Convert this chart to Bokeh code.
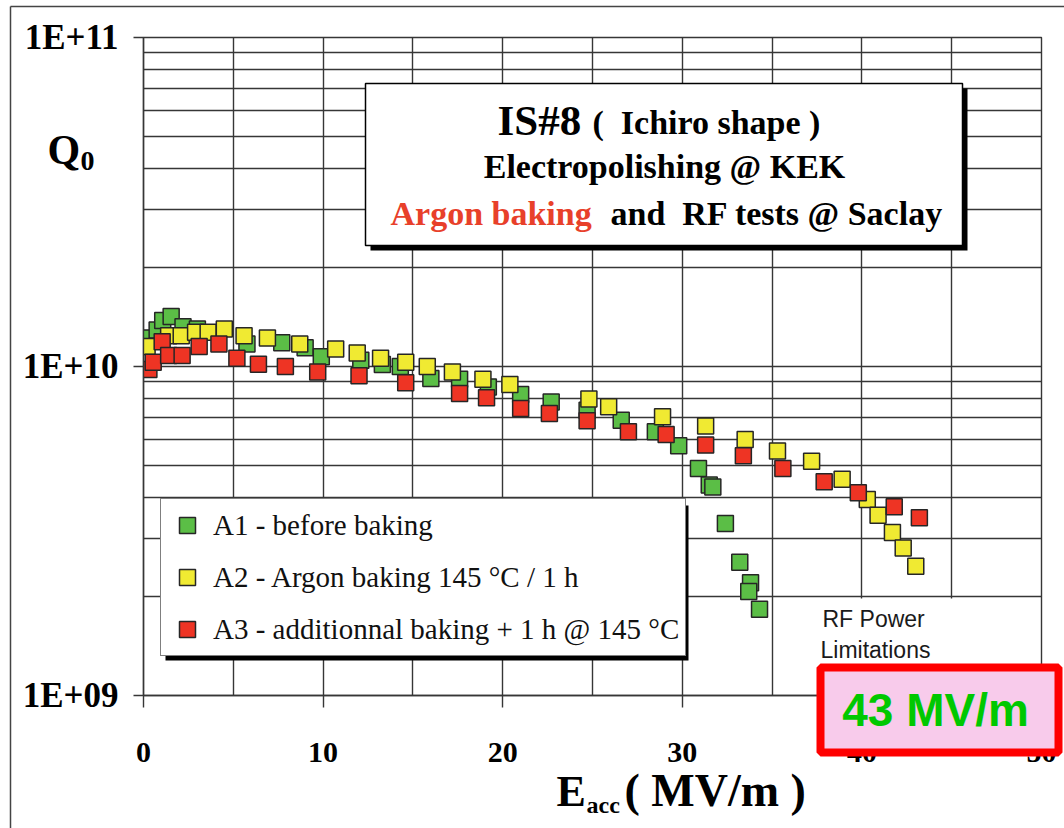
from bokeh.plotting import figure
from bokeh.models import (Range1d, FixedTicker, Label, Legend, LegendItem,
                          CustomJSTickFormatter, Column)
from bokeh.embed import file_html
from bokeh.resources import INLINE

# ---------------- data ----------------
a1_e = [0.2, 0.76, 1.07, 1.54, 2.2, 3.0, 5.76, 7.7, 9.0, 9.9, 12.1, 13.3, 14.3,
        16.0, 17.6, 19.2, 21.0, 22.7, 24.7, 26.6, 28.5, 29.8, 30.9, 31.5, 31.7,
        32.4, 33.2, 33.8, 33.7, 34.3]
a1_q = [1.22e10, 1.29e10, 1.38e10, 1.42e10, 1.32e10, 1.30e10, 1.17e10, 1.18e10,
        1.14e10, 1.07e10, 1.045e10, 1.014e10, 1.0e10, 0.92e10, 0.915e10, 0.867e10,
        0.822e10, 0.78e10, 0.736e10, 0.687e10, 0.633e10, 0.574e10, 0.49e10,
        0.436e10, 0.43e10, 0.333e10, 0.254e10, 0.22e10, 0.207e10, 0.183e10]

a2_e = [0.2, 1.4, 2.1, 2.9, 3.6, 4.5, 5.6, 6.9, 8.7, 10.7, 11.9, 13.2, 14.6, 15.8,
        17.2, 18.9, 20.4, 24.8, 25.9, 28.9, 31.3, 33.5, 35.3, 37.2, 38.9, 40.3,
        40.9, 41.7, 42.3, 43.0]
a2_q = [1.15e10, 1.24e10, 1.24e10, 1.27e10, 1.27e10, 1.30e10, 1.24e10, 1.22e10,
        1.17e10, 1.13e10, 1.10e10, 1.06e10, 1.03e10, 1.0e10, 0.963e10, 0.915e10,
        0.882e10, 0.796e10, 0.755e10, 0.703e10, 0.659e10, 0.60e10, 0.554e10,
        0.515e10, 0.454e10, 0.394e10, 0.353e10, 0.313e10, 0.281e10, 0.247e10]

a3_e = [0.3, 0.54, 1.04, 1.4, 2.15, 3.1, 4.2, 5.2, 6.4, 7.9, 9.7, 12.0, 14.6, 17.6,
        19.1, 21.0, 22.6, 24.7, 27.0, 29.1, 31.3, 33.4, 35.6, 37.9, 39.8, 41.8, 43.2]
a3_q = [0.98e10, 1.03e10, 1.19e10, 1.08e10, 1.08e10, 1.15e10, 1.17e10, 1.06e10,
        1.016e10, 1.0e10, 0.963e10, 0.937e10, 0.892e10, 0.828e10, 0.803e10,
        0.745e10, 0.72e10, 0.684e10, 0.633e10, 0.621e10, 0.577e10, 0.535e10,
        0.49e10, 0.446e10, 0.413e10, 0.375e10, 0.347e10]

series_labels = ["A1 - before baking",
                 "A2 - Argon baking 145 \u00b0C / 1 h",
                 "A3 - additionnal baking + 1 h @ 145 \u00b0C"]
x_ticks = [0, 10, 20, 30, 40, 50]
y_ticks = [1e9, 1e10, 1e11]

# ---------------- layout helpers ----------------
W, H = 1064, 828
FL, FR, FT, FB = 143, 1041, 37, 695
X0, X1 = 0, 50
NB = "\u00a0"


def dx(px):
    return X0 + (px - FL) / (FR - FL) * (X1 - X0)


def dy(py):
    return 10 ** (9 + 2 * (FB - py) / (FB - FT))


def sx(px):
    return px - FL


def sy(py):
    return FB - py


SERIF = "Liberation Serif"
SANS = "Liberation Sans"
GRID = "#363636"

p = figure(width=W, height=H, output_backend="svg", toolbar_location=None,
           y_axis_type="log", x_range=Range1d(X0, X1), y_range=Range1d(1e9, 1e11),
           min_border_left=FL, min_border_right=W - FR, min_border_top=FT,
           min_border_bottom=H - FB)
p.outline_line_color = GRID
p.outline_line_width = 1.4
p.background_fill_color = "white"
p.border_fill_color = "white"

# grid
p.xgrid.ticker = FixedTicker(ticks=list(range(0, 51, 5)))
p.ygrid.ticker = FixedTicker(ticks=[k * 10 ** n for n in (9, 10) for k in range(1, 10)] + [1e11])
for g in (p.xgrid, p.ygrid):
    g.grid_line_color = GRID
    g.grid_line_width = 1.4
    g.grid_line_alpha = 1.0

# axes
p.xaxis.ticker = FixedTicker(ticks=x_ticks)
p.yaxis.ticker = FixedTicker(ticks=y_ticks)
p.yaxis.formatter = CustomJSTickFormatter(
    code="const e = Math.round(Math.log10(tick)); return '1E+' + (e < 10 ? '0' + e : '' + e);")
for ax in (p.xaxis, p.yaxis):
    ax.axis_line_color = GRID
    ax.axis_line_width = 1.4
    ax.major_tick_line_color = GRID
    ax.major_tick_line_width = 1.4
    ax.major_tick_in = 0
    ax.minor_tick_line_color = None
    ax.major_label_text_font = SERIF
    ax.major_label_text_font_style = "bold"
    ax.major_label_text_color = "black"
p.xaxis.major_tick_out = 12
p.xaxis.major_label_standoff = 35
p.xaxis.major_label_text_font_size = "30px"
p.yaxis.major_tick_out = 10
p.yaxis.major_label_standoff = 15
p.yaxis.major_label_text_font_size = "35px"

# ---------------- boxes inside the plot (drawn over grid) ----------------
p.quad(left=[dx(370)], right=[dx(967)], top=[dy(88)], bottom=[dy(250)],
       fill_color="black", line_color=None)
p.quad(left=[dx(365)], right=[dx(962)], top=[dy(83)], bottom=[dy(245)],
       fill_color="white", line_color="black", line_width=1.5)
p.quad(left=[dx(165)], right=[dx(688)], top=[dy(505)], bottom=[dy(660)],
       fill_color="black", line_color=None)

# ---------------- data ----------------
common = dict(marker="square", size=16, line_color="#262626", line_width=1.5)
r1 = p.scatter(a1_e, a1_q, fill_color="#5BBE46", **common)
r2 = p.scatter(a2_e, a2_q, fill_color="#F0EA32", **common)
r3 = p.scatter(a3_e, a3_q, fill_color="#EE3424", **common)

legend = Legend(items=[LegendItem(label=series_labels[0], renderers=[r1]),
                       LegendItem(label=series_labels[1], renderers=[r2]),
                       LegendItem(label=series_labels[2], renderers=[r3])],
                location=(sx(160), FB - 656))
legend.border_line_color = "black"
legend.border_line_width = 1.5
legend.background_fill_color = "white"
legend.background_fill_alpha = 1.0
legend.label_text_font = SERIF
legend.label_text_font_size = "29px"
legend.label_text_color = "#111111"
legend.glyph_width = 40
legend.glyph_height = 40
legend.label_standoff = 6
legend.padding = 6
legend.spacing = 12
legend.margin = 0
p.add_layout(legend, "center")


def lab(fig, text, px, base, size, color="black", font=SERIF, style="bold",
        align="left", units="screen"):
    """Place a text whose baseline is at page row `base` (text drawn centred)."""
    py = base - 0.34 * size
    if units == "screen":
        x, y = sx(px), sy(py)
    else:
        x, y = px, py
    fig.add_layout(Label(x=x, y=y, x_units=units, y_units=units,
                         text=text, text_font=font, text_font_size=f"{size}px",
                         text_font_style=style, text_color=color,
                         text_align=align, text_baseline="middle"))


# title box lines
lab(p, "IS#8", 497, 135, 43)
lab(p, "(" + NB + NB + "Ichiro shape )", 592, 134, 34)
lab(p, "Electropolishing @ KEK", 664, 178, 34, align="center")
lab(p, "Argon baking", 390, 225, 34, color="#E8402A")
lab(p, "and" + NB + NB + "RF tests @ Saclay", 610, 225, 34)

# ---------------- overlay canvas in page pixels (texts outside the frame) ----------------
ov = figure(width=W, height=H, output_backend="svg", toolbar_location=None,
            x_range=Range1d(0, W), y_range=Range1d(H, 0),
            x_axis_type=None, y_axis_type=None,
            min_border_left=0, min_border_right=0, min_border_top=0, min_border_bottom=0,
            styles={"position": "absolute", "left": "0px", "top": "0px",
                    "pointer-events": "none"})
for fig in (p, ov):
    try:
        fig.frame_align = False
    except Exception:
        pass
ov.outline_line_color = None
ov.background_fill_color = None
ov.border_fill_color = None
ov.grid.visible = False

# outer frame of the slide picture
ov.segment(x0=[10, 10], y0=[6, 6], x1=[W, 10], y1=[6, H], line_color="#444444",
           line_width=1.5)
# white area behind "RF Power Limitations"
ov.quad(left=[776], right=[1039], top=[598], bottom=[692], fill_color="white",
        line_color=None)
lab(ov, "RF Power", 822, 626, 23, color="#1a1a1a", font=SANS, style="normal",
    units="data")
lab(ov, "Limitations", 820, 657, 23, color="#1a1a1a", font=SANS, style="normal",
    units="data")
# highlighted box
ov.quad(left=[820], right=[1058], top=[667], bottom=[752], fill_color="#F8CBEB",
        line_color="#FF0000", line_width=8)
lab(ov, "43 MV/m", 935, 725, 46, color="#00C800", font=SANS, style="bold",
    align="center", units="data")
# axis titles
lab(ov, "Q", 47, 164, 42, units="data")
lab(ov, "0", 80, 170, 28, units="data")
lab(ov, "E", 556, 806, 44, units="data")
lab(ov, "acc", 586, 813, 24, units="data")
lab(ov, "( MV/m )", 624, 806, 46, units="data")

page = Column(children=[p, ov], styles={"position": "relative"})
open("out.html", "w").write(file_html(page, INLINE))
